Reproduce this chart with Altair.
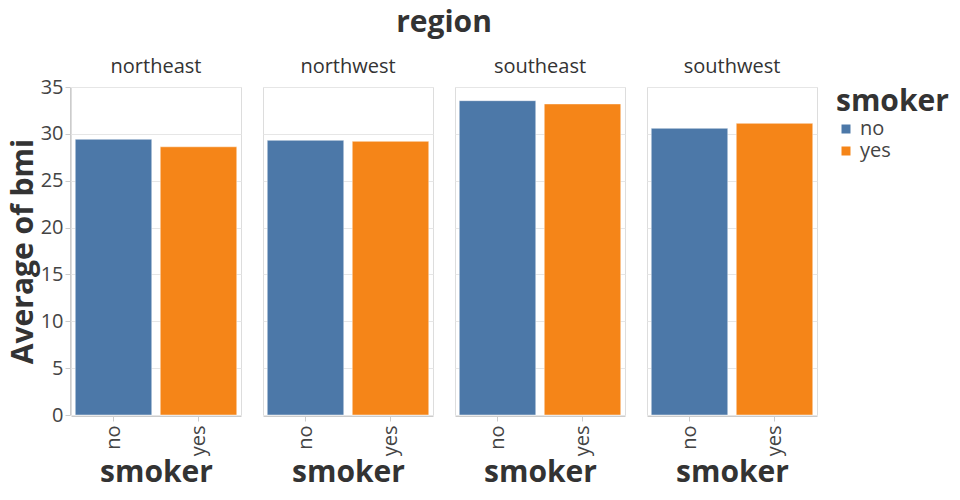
import altair as alt
import pandas as pd

regions = ["northeast", "northeast", "northwest", "northwest",
           "southeast", "southeast", "southwest", "southwest"]
smokers = ["no", "yes", "no", "yes", "no", "yes", "no", "yes"]
bmi_avg = [29.42, 28.62, 29.31, 29.20, 33.54, 33.19, 30.59, 31.12]

df = pd.DataFrame({"region": regions, "smoker": smokers, "bmi": bmi_avg})

FONT = "Open Sans"

chart = alt.Chart(df).mark_bar(
    stroke="white", strokeWidth=1, strokeOpacity=0.45
).encode(
    x=alt.X("smoker:N", title="smoker",
            scale=alt.Scale(paddingInner=0.1, paddingOuter=0.05),
            axis=alt.Axis(labelAngle=-90, labelFontSize=20, titleFontSize=30,
                          labelPadding=4, titlePadding=2)),
    y=alt.Y("mean(bmi):Q", title="Average of bmi",
            scale=alt.Scale(domain=[0, 35]),
            axis=alt.Axis(values=[0, 5, 10, 15, 20, 25, 30, 35],
                          labelFontSize=20, titleFontSize=30, titlePadding=2)),
    color=alt.Color("smoker:N",
                    scale=alt.Scale(domain=["no", "yes"], range=["#4c78a8", "#f58518"]),
                    legend=alt.Legend(title="smoker", titleFontSize=30,
                                      labelFontSize=20, symbolType="square",
                                      symbolSize=110, rowPadding=2,
                                      titlePadding=2)),
).properties(
    width=170, height=328
).facet(
    column=alt.Column("region:N", title="region",
                      header=alt.Header(titleFontSize=30, titleFontWeight="bold",
                                        labelFontSize=20, titleColor="#333",
                                        labelColor="#333", titlePadding=9,
                                        labelPadding=9)),
    spacing=20
).configure(
    font=FONT, padding=0
).configure_axis(
    titleColor="#333", labelColor="#444", titleFontWeight="bold",
    gridColor="#e6e6e6", domainColor="#ccc", tickColor="#ccc"
).configure_legend(
    titleColor="#333", labelColor="#444"
).configure_view(
    stroke="#ddd"
)

chart.save("out.html", embed_options={"renderer": "svg", "actions": False})
